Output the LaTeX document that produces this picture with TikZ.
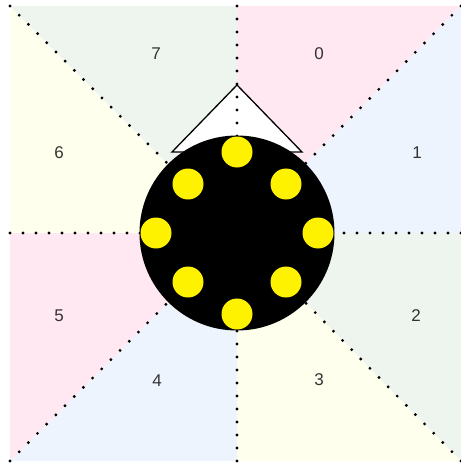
\documentclass[tikz,border=0pt]{standalone}
\usepackage{fontspec}
\setmainfont{Liberation Sans}
\definecolor{spink}{HTML}{FFE8F2}
\definecolor{sblue}{HTML}{EEF4FE}
\definecolor{sgreen}{HTML}{EDF5EE}
\definecolor{syellow}{HTML}{FFFFEE}
\begin{document}
\begin{tikzpicture}[x=1pt,y=-1pt,
  dotline/.style={line width=3.2pt, dash pattern=on 0pt off 13pt, line cap=round, black},
  lab/.style={font=\fontsize{17}{19}\selectfont, text=black!80, inner sep=0pt},
  led/.style={circle, fill=yellow, minimum size=31pt, inner sep=0pt},
  body/.style={circle, fill=black, minimum size=195pt, inner sep=0pt},
  pointer/.style={fill=white, draw=black, line width=1.3pt, line join=miter}]
\useasboundingbox (0,0) rectangle (461,464);
\coordinate (C) at (237,233);
\coordinate (N) at (237,6);
\coordinate (NE) at (461,6);
\coordinate (E) at (461,233);
\coordinate (SE) at (461,461);
\coordinate (S) at (237,461);
\coordinate (SW) at (10,461);
\coordinate (W) at (10,233);
\coordinate (NW) at (10,6);
% sectors
\fill[spink] (C)--(N)--(NE)--cycle;
\fill[sblue] (C)--(NE)--(E)--cycle;
\fill[sgreen] (C)--(E)--(SE)--cycle;
\fill[syellow] (C)--(SE)--(S)--cycle;
\fill[sblue] (C)--(S)--(SW)--cycle;
\fill[spink] (C)--(SW)--(W)--cycle;
\fill[syellow] (C)--(W)--(NW)--cycle;
\fill[sgreen] (C)--(NW)--(N)--cycle;
% pointer
\coordinate (tl) at (172,152);
\coordinate (tt) at (237,85);
\coordinate (tr) at (302,152);
\draw[pointer] (tl)--(tt)--(tr)--cycle;
% dotted dividers
\draw[dotline] (N)--(C);
\draw[dotline] (NE)--(C);
\draw[dotline] (E)--(C);
\draw[dotline] (SE)--(C);
\draw[dotline] (S)--(C);
\draw[dotline] (SW)--(C);
\draw[dotline] (W)--(C);
\draw[dotline] (NW)--(C);
% body
\node[body] (robot) at (C) {};
\node[led] (l0) at (237,152) {};
\node[led] (l1) at (286,184) {};
\node[led] (l2) at (318,233) {};
\node[led] (l3) at (286,282) {};
\node[led] (l4) at (237,314) {};
\node[led] (l5) at (188,282) {};
\node[led] (l6) at (156,233) {};
\node[led] (l7) at (188,184) {};
% labels
\node[lab] (t0) at (319,54) {0};
\node[lab] (t1) at (417,153) {1};
\node[lab] (t2) at (416,316) {2};
\node[lab] (t3) at (319,380) {3};
\node[lab] (t4) at (157,381) {4};
\node[lab] (t5) at (59,316) {5};
\node[lab] (t6) at (59,153) {6};
\node[lab] (t7) at (156,54) {7};
\end{tikzpicture}
\end{document}
